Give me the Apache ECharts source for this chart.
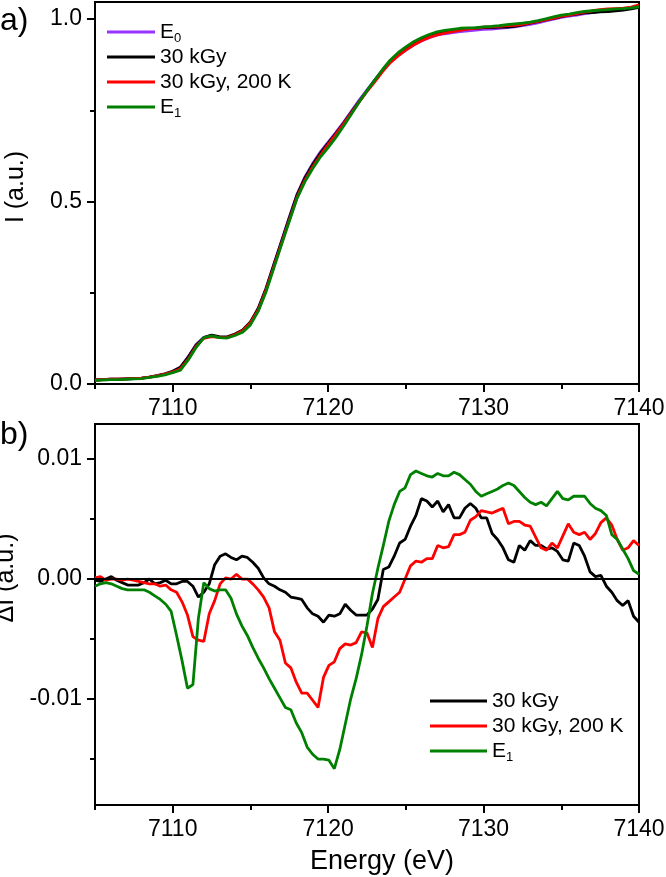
<!DOCTYPE html>
<html>
<head>
<meta charset="utf-8">
<script src="https://cdn.jsdelivr.net/npm/echarts@6/dist/echarts.min.js"></script>
<style>html,body{margin:0;padding:0;background:#fff}#c{width:666px;height:877px}</style>
</head>
<body>
<div id="c"></div>
<script>
// ---------- Panel a) : normalised XANES spectra ----------
const energyTop = [7105,7105.5,7106,7106.5,7107,7107.5,7108,7108.5,7109,7109.5,
  7110,7110.5,7111,7111.5,7112,7112.5,7113,7113.5,7114,7114.5,
  7115,7115.5,7116,7116.5,7117,7117.5,7118,7118.5,7119,7119.5,
  7120,7120.5,7121,7121.5,7122,7122.5,7123,7123.5,7124,7124.5,
  7125,7125.5,7126,7126.5,7127,7127.5,7128,7128.5,7129,7129.5,
  7130,7130.5,7131,7131.5,7132,7132.5,7133,7133.5,7134,7134.5,
  7135,7135.5,7136,7136.5,7137,7137.5,7138,7138.5,7139,7139.5,7140];
const intensityE0 = [.011,.012,.013,.013,.014,.015,.016,.019,.023,.028,
  .035,.046,.075,.108,.128,.133,.128,.127,.135,.146,
  .168,.207,.262,.327,.392,.457,.520,.567,.604,.636,
  .663,.690,.718,.748,.778,.806,.833,.859,.883,.900,
  .915,.929,.940,.949,.956,.960,.963,.966,.968,.970,
  .972,.973,.975,.977,.979,.982,.986,.990,.995,1.000,
  1.005,1.008,1.011,1.015,1.018,1.021,1.023,1.025,1.027,1.031,1.036];
const intensity30kGy = [.011,.012,.013,.013,.014,.015,.016,.019,.023,.028,
  .035,.046,.074,.106,.127,.134,.130,.129,.137,.148,
  .170,.207,.261,.326,.390,.455,.518,.565,.601,.633,
  .660,.687,.715,.745,.775,.803,.833,.860,.885,.903,
  .919,.934,.946,.955,.962,.966,.968,.971,.974,.975,
  .977,.977,.978,.978,.980,.984,.989,.993,.998,1.002,
  1.007,1.011,1.014,1.017,1.018,1.020,1.021,1.023,1.025,1.028,1.032];
const intensity30kGy200K = [.011,.012,.013,.013,.014,.015,.016,.019,.022,.027,
  .033,.042,.068,.103,.125,.130,.128,.127,.135,.146,
  .167,.203,.257,.321,.385,.449,.512,.558,.595,.627,
  .656,.684,.713,.743,.773,.802,.828,.856,.881,.899,
  .915,.929,.941,.950,.957,.962,.966,.969,.973,.975,
  .978,.979,.980,.982,.983,.986,.990,.994,.998,1.003,
  1.008,1.011,1.015,1.019,1.023,1.026,1.028,1.029,1.030,1.033,1.039];
const intensityE1 = [.010,.011,.012,.012,.013,.014,.015,.018,.021,.025,
  .031,.038,.066,.100,.127,.132,.127,.126,.133,.142,
  .162,.199,.252,.317,.382,.446,.509,.554,.590,.622,
  .648,.676,.707,.740,.773,.804,.833,.862,.888,.908,
  .924,.938,.949,.958,.965,.969,.972,.975,.976,.977,
  .979,.980,.982,.985,.987,.989,.992,.996,1.001,1.006,
  1.011,1.014,1.018,1.021,1.023,1.025,1.026,1.028,1.029,1.031,1.034];

// ---------- Panel b) : difference spectra ----------
const energyDiff = [7105,7105.35,7105.7,7106.05,7106.4,7106.75,7107.1,7107.45,7107.8,7108.15,
  7108.5,7108.85,7109.2,7109.55,7109.9,7110.25,7110.6,7110.95,7111.3,7111.65,
  7112,7112.35,7112.7,7113.05,7113.4,7113.75,7114.1,7114.45,7114.8,7115.15,
  7115.5,7115.85,7116.2,7116.55,7116.9,7117.25,7117.6,7117.95,7118.3,7118.65,
  7119,7119.35,7119.7,7120.05,7120.4,7120.75,7121.1,7121.45,7121.8,7122.15,
  7122.5,7122.85,7123.2,7123.55,7123.9,7124.25,7124.6,7124.95,7125.3,7125.65,
  7126,7126.35,7126.7,7127.05,7127.4,7127.75,7128.1,7128.45,7128.8,7129.15,
  7129.5,7129.85,7130.2,7130.55,7130.9,7131.25,7131.6,7131.95,7132.3,7132.65,
  7133,7133.35,7133.7,7134.05,7134.4,7134.75,7135.1,7135.45,7135.8,7136.15,
  7136.5,7136.85,7137.2,7137.55,7137.9,7138.25,7138.6,7138.95,7139.3,7139.65,7140];
const diff30kGy = [-0.0001,-0.0002,0.0000,0.0002,-0.0001,-0.0003,-0.0005,-0.0005,-0.0005,-0.0003,
  0.0000,-0.0004,-0.0003,-0.0001,-0.0004,-0.0004,-0.0002,-0.0002,-0.0006,-0.0015,
  -0.0011,-0.0004,0.0012,0.0019,0.0021,0.0018,0.0016,0.0019,0.0018,0.0014,
  0.0009,0.0001,-0.0004,-0.0006,-0.0009,-0.0011,-0.0015,-0.0016,-0.0017,-0.0024,
  -0.0029,-0.0031,-0.0036,-0.0030,-0.0031,-0.0029,-0.0021,-0.0026,-0.0030,-0.0030,
  -0.0030,-0.0025,-0.0017,0.0008,0.0010,0.0019,0.0030,0.0033,0.0044,0.0053,
  0.0067,0.0065,0.0060,0.0065,0.0056,0.0062,0.0051,0.0051,0.0059,0.0063,
  0.0059,0.0051,0.0051,0.0038,0.0033,0.0026,0.0016,0.0014,0.0028,0.0024,
  0.0032,0.0028,0.0028,0.0025,0.0026,0.0023,0.0016,0.0015,0.0030,0.0028,
  0.0019,0.0006,0.0002,0.0003,-0.0006,-0.0011,-0.0018,-0.0022,-0.0018,-0.0031,-0.0036];
const diff30kGy200K = [0.0001,0.0002,-0.0001,0.0000,0.0000,-0.0001,0.0000,-0.0001,-0.0002,-0.0003,
  -0.0004,-0.0004,-0.0006,-0.0005,-0.0009,-0.0011,-0.0019,-0.0030,-0.0048,-0.0051,
  -0.0052,-0.0029,-0.0018,-0.0004,0.0001,0.0000,0.0004,0.0000,0.0000,-0.0004,
  -0.0009,-0.0015,-0.0024,-0.0044,-0.0051,-0.0070,-0.0074,-0.0086,-0.0095,-0.0095,
  -0.0101,-0.0107,-0.0082,-0.0072,-0.0069,-0.0058,-0.0054,-0.0055,-0.0053,-0.0044,
  -0.0045,-0.0057,-0.0033,-0.0023,-0.0019,-0.0015,-0.0011,0.0000,0.0011,0.0015,
  0.0014,0.0017,0.0017,0.0028,0.0026,0.0027,0.0037,0.0037,0.0039,0.0049,
  0.0052,0.0057,0.0056,0.0055,0.0057,0.0059,0.0046,0.0048,0.0048,0.0045,
  0.0044,0.0035,0.0026,0.0024,0.0030,0.0026,0.0036,0.0046,0.0039,0.0037,
  0.0039,0.0033,0.0038,0.0047,0.0051,0.0045,0.0033,0.0024,0.0026,0.0032,0.0028];
const diffE1 = [-0.0006,-0.0004,-0.0003,-0.0004,-0.0006,-0.0008,-0.0009,-0.0009,-0.0009,-0.0009,
  -0.0011,-0.0014,-0.0017,-0.0021,-0.0027,-0.0047,-0.0068,-0.0091,-0.0088,-0.0033,
  -0.0003,-0.0008,-0.0010,-0.0009,-0.0009,-0.0016,-0.0029,-0.0039,-0.0047,-0.0057,
  -0.0066,-0.0074,-0.0083,-0.0091,-0.0099,-0.0107,-0.0109,-0.0120,-0.0128,-0.0140,
  -0.0146,-0.0150,-0.0150,-0.0151,-0.0158,-0.0142,-0.0121,-0.0100,-0.0083,-0.0063,
  -0.0039,-0.0012,0.0009,0.0028,0.0048,0.0062,0.0073,0.0076,0.0087,0.0090,
  0.0088,0.0086,0.0085,0.0088,0.0086,0.0086,0.0089,0.0087,0.0083,0.0079,
  0.0073,0.0069,0.0071,0.0073,0.0075,0.0078,0.0080,0.0078,0.0073,0.0068,
  0.0064,0.0062,0.0064,0.0061,0.0067,0.0073,0.0067,0.0066,0.0069,0.0069,
  0.0069,0.0063,0.0059,0.0057,0.0053,0.0037,0.0033,0.0025,0.0017,0.0007,0.0004];

// ---------- ticks ----------
const xMajorTicks = [7110, 7120, 7130, 7140];
const xMinorTicks = [7105, 7115, 7125, 7135];
const topYMajor = [0, 0.5, 1.0];
const topYMinor = [0.25, 0.75];
const botYMajor = [-0.01, 0, 0.01];
const botYMinor = [-0.015, -0.005, 0.005];

const FONT = '"Liberation Sans", Arial, sans-serif';
const BLACK = '#000';
const pairs = (xs, ys) => xs.map((x, i) => [x, ys[i]]);

function mainAxis(gridIndex, min, max, ticks, fmt, position, extra) {
  return Object.assign({
    type: 'value', gridIndex, min, max, position,
    axisLine: { show: true, onZero: false, lineStyle: { color: BLACK, width: 2 } },
    axisTick: { show: true, inside: false, length: 8, customValues: ticks, lineStyle: { color: BLACK, width: 2 } },
    axisLabel: { show: true, customValues: ticks, formatter: fmt, margin: 13, fontSize: 23, color: BLACK, fontFamily: FONT },
    splitLine: { show: false },
    minorTick: { show: false }
  }, extra || {});
}
function minorAxis(gridIndex, min, max, ticks, position) {
  return {
    type: 'value', gridIndex, min, max, position,
    axisLine: { show: false, onZero: false },
    axisTick: { show: true, inside: false, length: 5, customValues: ticks, lineStyle: { color: BLACK, width: 2 } },
    axisLabel: { show: false },
    splitLine: { show: false }
  };
}

const legendText = {
  fontSize: 21, lineHeight: 26, color: BLACK, fontFamily: FONT,
  rich: { sub: { fontSize: 13, lineHeight: 13, verticalAlign: 'bottom', color: BLACK, fontFamily: FONT } }
};
const legendFmt = name => name === 'E0' ? 'E{sub|0}' : (name === 'E1' ? 'E{sub|1}' : name);

function line(name, color, xi, yi, data, extra) {
  return Object.assign({
    name, type: 'line', xAxisIndex: xi, yAxisIndex: yi, data,
    showSymbol: false, symbol: 'none', smooth: false,
    lineStyle: { color, width: 2.8 }, itemStyle: { color },
    emphasis: { disabled: true }
  }, extra || {});
}

const chart = echarts.init(document.getElementById('c'), null, { renderer: 'canvas' });
chart.setOption({
  animation: false,
  backgroundColor: '#fff',
  grid: [
    { left: 95, top: 2, width: 544, height: 382, show: true, borderColor: BLACK, borderWidth: 2, backgroundColor: 'transparent', outerBoundsMode: 'none', containLabel: false },
    { left: 95, top: 424, width: 544, height: 381, show: true, borderColor: BLACK, borderWidth: 2, backgroundColor: 'transparent', outerBoundsMode: 'none', containLabel: false }
  ],
  xAxis: [
    mainAxis(0, 7105, 7140, xMajorTicks, v => String(v), 'bottom'),
    minorAxis(0, 7105, 7140, xMinorTicks, 'bottom'),
    mainAxis(1, 7105, 7140, xMajorTicks, v => String(v), 'bottom', {
      name: 'Energy (eV)', nameLocation: 'middle', nameGap: 43,
      nameTextStyle: { fontSize: 27, color: BLACK, fontFamily: FONT, padding: [0, 0, 0, 30] }
    }),
    minorAxis(1, 7105, 7140, xMinorTicks, 'bottom')
  ],
  yAxis: [
    mainAxis(0, 0, 1.047, topYMajor, v => v.toFixed(1), 'left', {
      name: 'I (a.u.)', nameLocation: 'middle', nameGap: 66,
      nameTextStyle: { fontSize: 25, color: BLACK, fontFamily: FONT, padding: [0, 0, 0, 12] }
    }),
    minorAxis(0, 0, 1.047, topYMinor, 'left'),
    mainAxis(1, -0.01883, 0.01292, botYMajor, v => v.toFixed(2), 'left', {
      name: 'ΔI (a.u.)', nameLocation: 'middle', nameGap: 66,
      nameTextStyle: { fontSize: 25, color: BLACK, fontFamily: FONT, padding: [0, 0, 0, 73] }
    }),
    minorAxis(1, -0.01883, 0.01292, botYMinor, 'left')
  ],
  legend: [
    {
      orient: 'vertical', left: 107, top: 19, padding: 0, itemWidth: 48, itemHeight: 3, itemGap: -1,
      icon: 'rect', selectedMode: false, data: ['E0', '30 kGy', '30 kGy, 200 K', 'E1'],
      textStyle: legendText, formatter: legendFmt
    },
    {
      orient: 'vertical', left: 430, top: 688, padding: 0, itemWidth: 57, itemHeight: 3, itemGap: -1,
      icon: 'rect', selectedMode: false, data: ['30 kGy', '30 kGy, 200 K', 'E1'],
      textStyle: legendText, formatter: legendFmt
    }
  ],
  graphic: [
    { type: 'text', left: 0, top: 5, style: { text: 'a)', fontSize: 32, fill: BLACK, fontFamily: FONT } },
    { type: 'text', left: 0, top: 419, style: { text: 'b)', fontSize: 32, fill: BLACK, fontFamily: FONT } }
  ],
  series: [
    line('E0', '#9933ff', 0, 0, pairs(energyTop, intensityE0)),
    line('30 kGy', '#000000', 0, 0, pairs(energyTop, intensity30kGy)),
    line('30 kGy, 200 K', '#ff0000', 0, 0, pairs(energyTop, intensity30kGy200K)),
    line('E1', '#008000', 0, 0, pairs(energyTop, intensityE1)),
    line('30 kGy', '#000000', 2, 2, pairs(energyDiff, diff30kGy), {
      markLine: {
        silent: true, symbol: ['none', 'none'], label: { show: false },
        lineStyle: { color: BLACK, width: 2, type: 'solid' },
        emphasis: { disabled: true },
        data: [{ yAxis: 0 }]
      }
    }),
    line('30 kGy, 200 K', '#ff0000', 2, 2, pairs(energyDiff, diff30kGy200K)),
    line('E1', '#008000', 2, 2, pairs(energyDiff, diffE1))
  ]
});
</script>
</body>
</html>
